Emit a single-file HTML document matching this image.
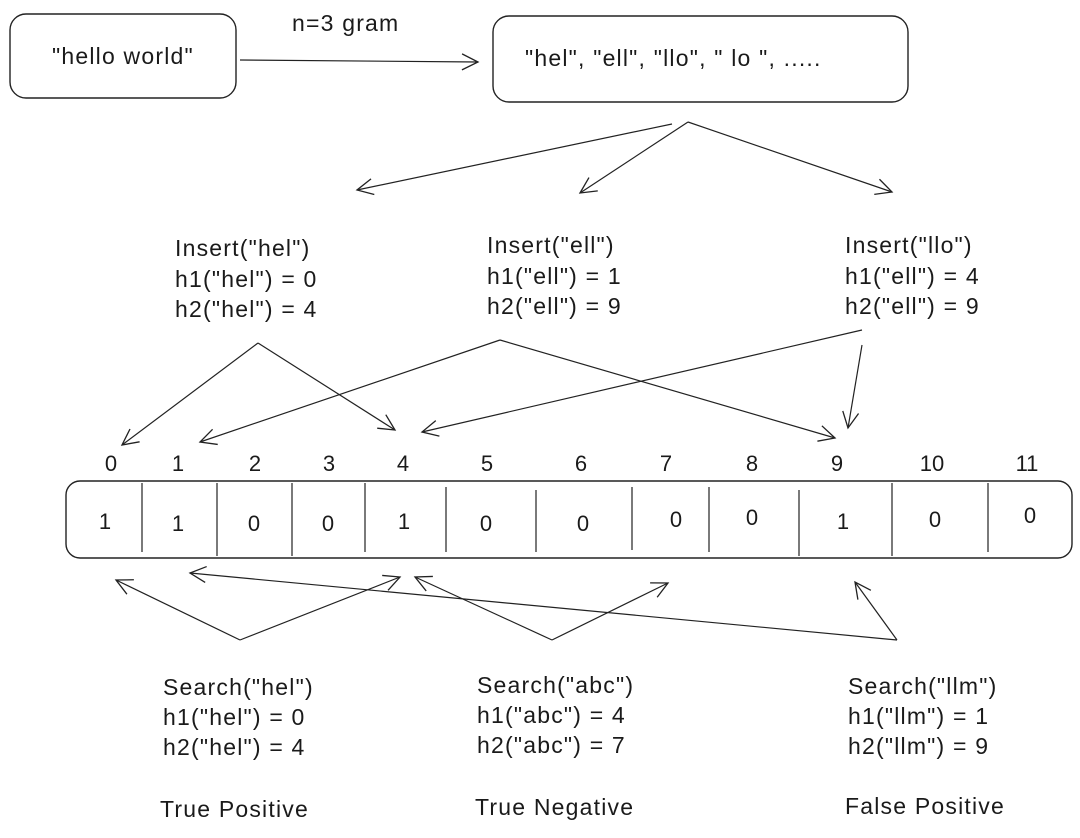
<!DOCTYPE html>
<html><head><style>
body{margin:0;background:#fff;}
svg text{font-family:"Liberation Sans",sans-serif;fill:#1a1a1a;}
</style></head><body>
<svg width="1080" height="833" viewBox="0 0 1080 833" xmlns="http://www.w3.org/2000/svg">
<defs><marker id="a" markerWidth="20" markerHeight="20" refX="18" refY="10" orient="auto" markerUnits="userSpaceOnUse"><path d="M2,2 L18,10 L2,18" fill="none" stroke="#222" stroke-width="1.3"/></marker></defs>
<g fill="none" stroke="#222" stroke-width="1.4">
<rect x="10" y="14" width="226" height="84" rx="16"/>
<rect x="493" y="16" width="415" height="86" rx="16"/>
<rect x="66" y="481" width="1006" height="77" rx="14"/>
<g stroke-width="1.2">
<line x1="142" y1="483" x2="142" y2="552"/><line x1="217" y1="483" x2="217" y2="556"/>
<line x1="292" y1="483" x2="292" y2="556"/><line x1="365" y1="483" x2="365" y2="552"/>
<line x1="446" y1="487" x2="446" y2="552"/><line x1="536" y1="490" x2="536" y2="552"/>
<line x1="632" y1="487" x2="632" y2="550"/><line x1="709" y1="487" x2="709" y2="552"/>
<line x1="799" y1="490" x2="799" y2="556"/><line x1="892" y1="483" x2="892" y2="556"/>
<line x1="988" y1="483" x2="988" y2="552"/>
</g>
<g marker-end="url(#a)" stroke-width="1.2">
<line x1="240" y1="60" x2="478" y2="62"/>
<line x1="672" y1="124" x2="357" y2="190"/>
<line x1="688" y1="122" x2="580" y2="193"/>
<line x1="688" y1="122" x2="892" y2="192"/>
<line x1="258" y1="343" x2="122" y2="445"/>
<line x1="258" y1="343" x2="395" y2="430"/>
<line x1="500" y1="340" x2="200" y2="442"/>
<line x1="500" y1="340" x2="835" y2="438"/>
<line x1="862" y1="330" x2="422" y2="432"/>
<line x1="862" y1="345" x2="848" y2="428"/>
<line x1="240" y1="640" x2="116" y2="580"/>
<line x1="240" y1="640" x2="400" y2="577"/>
<line x1="552" y1="640" x2="415" y2="577"/>
<line x1="552" y1="640" x2="668" y2="583"/>
<line x1="897" y1="640" x2="190" y2="573"/>
<line x1="897" y1="640" x2="855" y2="582"/>
</g>
</g>
<g font-size="23" letter-spacing="1.2">
<text x="52" y="64">"hello world"</text>
<text x="292" y="31">n=3 gram</text>
<text x="525" y="66">"hel", "ell", "llo", " lo ", .....</text>
<text x="175" y="256">Insert("hel")</text><text x="175" y="287">h1("hel") = 0</text><text x="175" y="317">h2("hel") = 4</text>
<text x="487" y="253">Insert("ell")</text><text x="487" y="284">h1("ell") = 1</text><text x="487" y="314">h2("ell") = 9</text>
<text x="845" y="253">Insert("llo")</text><text x="845" y="284">h1("ell") = 4</text><text x="845" y="314">h2("ell") = 9</text>
<text x="163" y="695">Search("hel")</text><text x="163" y="725">h1("hel") = 0</text><text x="163" y="755">h2("hel") = 4</text>
<text x="477" y="693">Search("abc")</text><text x="477" y="723">h1("abc") = 4</text><text x="477" y="753">h2("abc") = 7</text>
<text x="848" y="694">Search("llm")</text><text x="848" y="724">h1("llm") = 1</text><text x="848" y="754">h2("llm") = 9</text>
<text x="160" y="817">True Positive</text>
<text x="475" y="815">True Negative</text>
<text x="845" y="814">False Positive</text>
</g>
<g font-size="22" text-anchor="middle">
<text x="111" y="471">0</text><text x="178" y="471">1</text><text x="255" y="471">2</text><text x="329" y="471">3</text>
<text x="403" y="471">4</text><text x="487" y="471">5</text><text x="581" y="471">6</text><text x="666" y="471">7</text>
<text x="752" y="471">8</text><text x="837" y="471">9</text><text x="932" y="471">10</text><text x="1027" y="471">11</text>
<text x="105" y="529">1</text><text x="178" y="531">1</text><text x="254" y="531">0</text><text x="328" y="531">0</text>
<text x="404" y="529">1</text><text x="486" y="531">0</text><text x="583" y="531">0</text><text x="676" y="527">0</text>
<text x="752" y="525">0</text><text x="843" y="529">1</text><text x="935" y="527">0</text><text x="1030" y="523">0</text>
</g>
</svg>
</body></html>
